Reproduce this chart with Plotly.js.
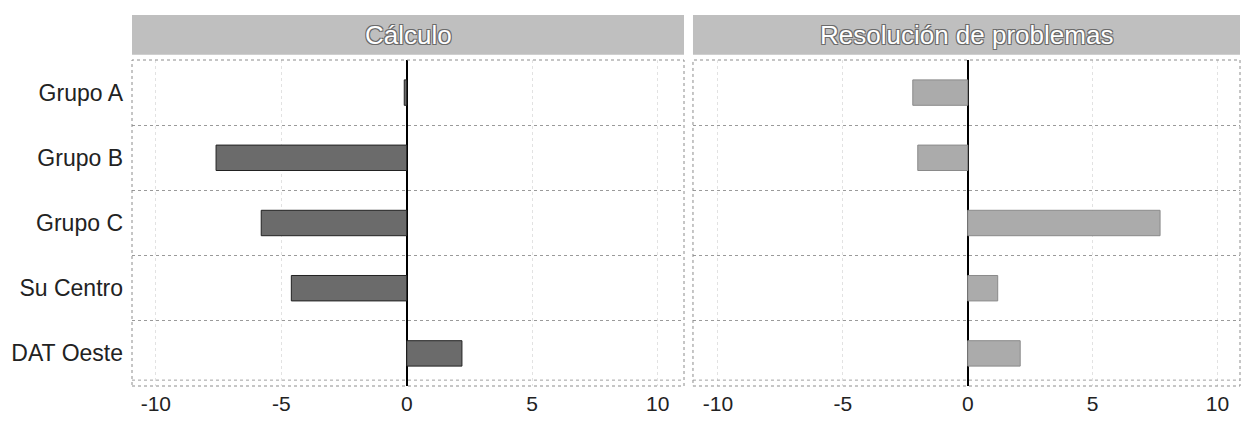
<!DOCTYPE html>
<html>
<head>
<meta charset="utf-8">
<script src="https://cdn.plot.ly/plotly-3.0.1.min.js"></script>
<style>html,body{margin:0;padding:0;background:#fff;}#chart{width:1242px;height:423px;}</style>
</head>
<body>
<div id="chart"></div>
<script>
const categories = ['Grupo A', 'Grupo B', 'Grupo C', 'Su Centro', 'DAT Oeste'];
const calculo = [-0.1, -7.6, -5.8, -4.6, 2.2];
const resolucion = [-2.2, -2.0, 7.7, 1.2, 2.1];
const panelTitles = ['Cálculo', 'Resolución de problemas'];
const xTicks = [-10, -5, 0, 5, 10];

const FONT = 'Liberation Sans, Arial, sans-serif';

const traces = [
  {type: 'bar', orientation: 'h', y: categories, x: calculo, xaxis: 'x', yaxis: 'y',
   width: 0.39, marker: {color: '#6b6b6b', line: {color: '#222', width: 1}}, showlegend: false, hoverinfo: 'x+y'},
  {type: 'bar', orientation: 'h', y: categories, x: resolucion, xaxis: 'x2', yaxis: 'y',
   width: 0.39, marker: {color: '#ababab', line: {color: '#8a8a8a', width: 1}}, showlegend: false, hoverinfo: 'x+y'}
];

const xCommon = {
  tickvals: xTicks, ticktext: xTicks.map(String),
  tickfont: {family: FONT, size: 21, color: '#222'},
  ticks: '', ticklabelstandoff: 3,
  showgrid: true, gridcolor: '#e2e2e2', griddash: 'dot', gridwidth: 1,
  zeroline: true, zerolinecolor: '#000', zerolinewidth: 2,
  showline: false, fixedrange: true, anchor: 'y'
};

const shapes = [];
const annotations = [];
['x', 'x2'].forEach((ax, i) => {
  shapes.push({type: 'rect', xref: ax + ' domain', yref: 'paper', x0: 0, x1: 1, y0: 1.016, y1: 1.138,
    fillcolor: '#bfbfbf', line: {width: 0}, layer: 'below'});
  shapes.push({type: 'rect', xref: ax + ' domain', yref: 'paper', x0: 0, x1: 1, y0: 0, y1: 1,
    fillcolor: 'rgba(0,0,0,0)', line: {color: '#8c8c8c', width: 1, dash: 'dot'}, layer: 'above'});
  shapes.push({type: 'line', xref: ax + ' domain', yref: 'paper', x0: 0, x1: 1, y0: 0.018, y1: 0.018,
    line: {color: '#a0a0a0', width: 1, dash: 'dot'}, layer: 'above'});
  annotations.push({xref: ax + ' domain', yref: 'paper', x: 0.5, y: 1.077, xanchor: 'center', yanchor: 'middle',
    text: panelTitles[i], showarrow: false,
    font: {family: FONT, size: 26, color: '#ffffff',
      shadow: '1px 1px 0 #6a6a6a, -1px -1px 0 #6a6a6a, 1px -1px 0 #6a6a6a, -1px 1px 0 #6a6a6a'}});
});

const layout = {
  width: 1242, height: 423,
  margin: {l: 132, r: 2, t: 60, b: 37, pad: 0},
  paper_bgcolor: '#ffffff', plot_bgcolor: '#ffffff',
  font: {family: FONT, color: '#222'},
  xaxis: Object.assign({}, xCommon, {domain: [0, 0.4982], range: [-10.95, 11.05]}),
  xaxis2: Object.assign({}, xCommon, {domain: [0.5063, 1], range: [-11.0, 10.9]}),
  yaxis: {
    type: 'category', categoryorder: 'array', categoryarray: categories,
    range: [4.5, -0.5], tickson: 'boundaries',
    ticks: '', ticklabelstandoff: 8,
    tickfont: {family: FONT, size: 23, color: '#222'},
    showgrid: true, gridcolor: '#9a9a9a', griddash: 'dot', gridwidth: 1,
    zeroline: false, showline: false, fixedrange: true
  },
  shapes: shapes,
  annotations: annotations
};

Plotly.newPlot('chart', traces, layout, {displayModeBar: false, staticPlot: true});
</script>
</body>
</html>
